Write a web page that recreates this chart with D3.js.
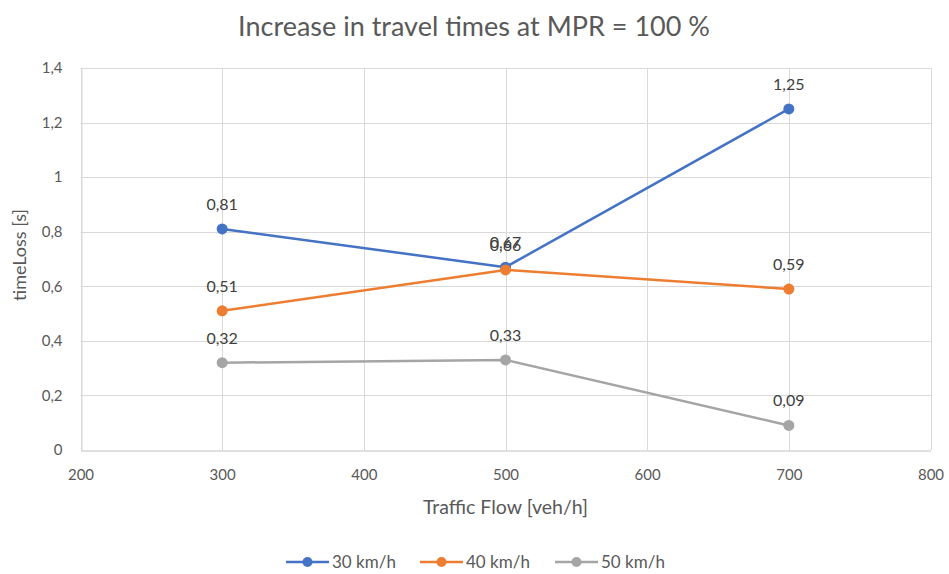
<!DOCTYPE html>
<html>
<head>
<meta charset="utf-8">
<script src="https://cdn.jsdelivr.net/npm/d3@7"></script>
<style>
  html, body { margin: 0; padding: 0; background: #fff; }
  svg { display: block; font-family: Lato, "Open Sans", sans-serif; }
</style>
</head>
<body>
<svg id="chart" width="949" height="574"></svg>
<script>
// Traffic flow levels (veh/h)
const flows = [300, 500, 700];
// Time loss per speed limit (s)
const speed30 = [0.81, 0.67, 1.25];
const speed40 = [0.51, 0.66, 0.59];
const speed50 = [0.32, 0.33, 0.09];
const seriesNames = ["30 km/h", "40 km/h", "50 km/h"];
const seriesColors = ["#4472c4", "#ed7d31", "#a5a5a5"];
const xTicks = [200, 300, 400, 500, 600, 700, 800];
const yTicks = [0, 0.2, 0.4, 0.6, 0.8, 1, 1.2, 1.4];

const series = [speed30, speed40, speed50].map((vals, i) => ({
  name: seriesNames[i], color: seriesColors[i],
  points: vals.map((v, j) => ({ x: flows[j], y: v }))
}));

const svg = d3.select("#chart");
const fmt = v => String(v).replace(".", ",");

const x = d3.scaleLinear().domain([200, 800]).range([80.5, 930.5]);
const y = d3.scaleLinear().domain([0, 1.4]).range([450, 68]);

// Title
svg.append("text").attr("x", 474).attr("y", 36).attr("text-anchor", "middle")
  .attr("font-size", 27).attr("fill", "#595959").text("Increase in travel times at MPR = 100 %");

// Grid
const grid = svg.append("g");
grid.selectAll("line.h").data(yTicks.filter(t => t > 0)).join("line")
  .attr("x1", x(200)).attr("x2", x(800))
  .attr("y1", d => Math.round(y(d)) + 0.5).attr("y2", d => Math.round(y(d)) + 0.5)
  .attr("stroke", "#d9d9d9").attr("stroke-width", 1);
grid.selectAll("line.v").data(xTicks).join("line")
  .attr("x1", d => Math.round(x(d)) + 0.5).attr("x2", d => Math.round(x(d)) + 0.5)
  .attr("y1", y(1.4)).attr("y2", y(0))
  .attr("stroke", "#d9d9d9").attr("stroke-width", 1);

// Axes
const xAxis = svg.append("g").attr("transform", `translate(0,${Math.round(y(0)) + 0.5})`)
  .call(d3.axisBottom(x).tickValues(xTicks).tickSize(0).tickPadding(19).tickFormat(d => d));
xAxis.select(".domain").attr("stroke", "#bfbfbf");
xAxis.selectAll("text").attr("font-size", 15).attr("fill", "#595959").attr("font-family", "Lato, sans-serif");

const yAxis = svg.append("g").attr("transform", `translate(${Math.round(x(200)) + 0.5},0)`)
  .call(d3.axisLeft(y).tickValues(yTicks).tickSize(0).tickPadding(19).tickFormat(fmt));
yAxis.select(".domain").attr("stroke", "#d9d9d9");
yAxis.selectAll("text").attr("font-size", 15).attr("fill", "#595959").attr("font-family", "Lato, sans-serif");

// Axis titles
svg.append("text").attr("x", x(500)).attr("y", 514).attr("text-anchor", "middle")
  .attr("font-size", 19.5).attr("fill", "#595959").text("Traffic Flow [veh/h]");
svg.append("text").attr("transform", `translate(26,255) rotate(-90)`).attr("text-anchor", "middle")
  .attr("font-size", 18).attr("fill", "#595959").text("timeLoss [s]");

// Lines, markers, labels
const line = d3.line().x(d => x(d.x)).y(d => y(d.y));
series.forEach(s => {
  const g = svg.append("g");
  g.append("path").datum(s.points).attr("d", line).attr("fill", "none")
    .attr("stroke", s.color).attr("stroke-width", 2.5).attr("stroke-linejoin", "round");
  g.selectAll("circle").data(s.points).join("circle")
    .attr("cx", d => x(d.x)).attr("cy", d => y(d.y)).attr("r", 5.5).attr("fill", s.color);
  g.selectAll("text").data(s.points).join("text")
    .attr("x", d => x(d.x)).attr("y", d => y(d.y) - 19).attr("text-anchor", "middle")
    .attr("font-size", 16).attr("fill", "#404040").text(d => fmt(d.y));
});

// Legend
const legendItems = [{ x: 286 }, { x: 420 }, { x: 555 }];
const legend = svg.append("g");
series.forEach((s, i) => {
  const lx = legendItems[i].x, ly = 562;
  legend.append("line").attr("x1", lx).attr("x2", lx + 43).attr("y1", ly).attr("y2", ly)
    .attr("stroke", s.color).attr("stroke-width", 2.5);
  legend.append("circle").attr("cx", lx + 21.5).attr("cy", ly).attr("r", 5).attr("fill", s.color);
  legend.append("text").attr("x", lx + 46).attr("y", ly + 6).attr("font-size", 17)
    .attr("fill", "#595959").text(s.name);
});
</script>
</body>
</html>
